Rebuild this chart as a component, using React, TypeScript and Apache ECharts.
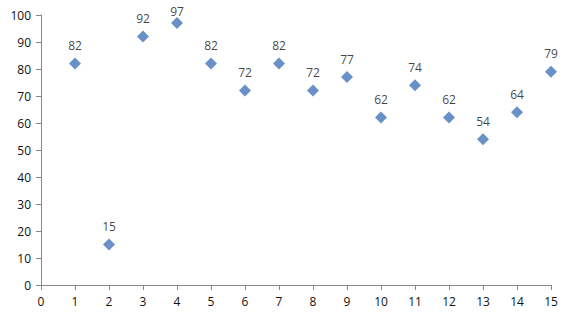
import React, { useEffect, useRef } from "react";
import * as echarts from "echarts";

const xValues = [1, 2, 3, 4, 5, 6, 7, 8, 9, 10, 11, 12, 13, 14, 15];
const yValues = [82, 15, 92, 97, 82, 72, 82, 72, 77, 62, 74, 62, 54, 64, 79];

export default function App() {
  const ref = useRef<HTMLDivElement>(null);
  useEffect(() => {
    if (!ref.current) return;
    const chart = echarts.init(ref.current, null, { renderer: "svg" });
    const font = "'Open Sans', 'Liberation Sans', sans-serif";
    const yMax = 100;
    chart.setOption({
      animation: false,
      backgroundColor: "#ffffff",
      grid: { left: 41, right: 22, top: 15, bottom: 34, containLabel: false },
      xAxis: {
        type: "value",
        min: 0,
        max: 15,
        interval: 1,
        axisLine: { show: true, lineStyle: { color: "#888888", width: 1 } },
        axisTick: { show: true, length: 5, lineStyle: { color: "#888888" } },
        splitLine: { show: false },
        axisLabel: { color: "#111", fontSize: 12, fontFamily: font, margin: 10 },
      },
      yAxis: {
        type: "value",
        min: 0,
        max: yMax,
        interval: 10,
        axisLine: { show: true, lineStyle: { color: "#888888", width: 1 } },
        axisTick: { show: true, length: 5, lineStyle: { color: "#888888" } },
        splitLine: { show: false },
        axisLabel: { color: "#111", fontSize: 12, fontFamily: font, margin: 10 },
      },
      series: [
        {
          type: "scatter",
          symbol: "diamond",
          symbolSize: [12, 12],
          itemStyle: { color: "#4374B9" },
          data: xValues.map((x, i) => {
            const v = yValues[i];
            const item: any = { value: [x, v] };
            if (v > 95) item.label = { distance: 0 };
            return item;
          }),
          label: {
            show: true,
            position: "top",
            distance: 6,
            color: "#111",
            fontSize: 12,
            fontFamily: font,
            formatter: (p: any) => String(p.value[1]),
          },
        },
      ],
    });
    return () => chart.dispose();
  }, []);
  return <div ref={ref} style={{ width: 573, height: 319, position: "absolute", left: 0, top: 0 }} />;
}
